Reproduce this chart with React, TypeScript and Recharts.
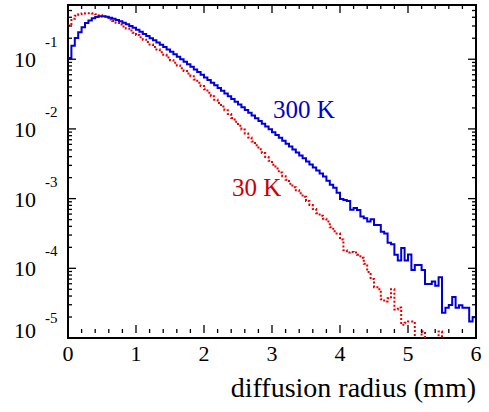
import { LineChart, Line, XAxis, YAxis, ReferenceArea } from 'recharts';

// histogram: 120 bins of 0.05 mm from 0 to 6 mm
const BIN_WIDTH = 0.05;

const blue300K = [
  0.1045, 0.156, 0.202, 0.244, 0.288, 0.33, 0.361, 0.386, 0.403, 0.413,
  0.413, 0.406, 0.395, 0.382, 0.367, 0.351, 0.335, 0.318, 0.3, 0.2827,
  0.2652, 0.248, 0.2311, 0.2154, 0.2008, 0.1872, 0.1739, 0.1615, 0.1495, 0.1384,
  0.1277, 0.1178, 0.1087, 0.1, 0.092, 0.0846, 0.0777, 0.0713, 0.0654, 0.0599,
  0.0549, 0.0503, 0.0461, 0.0423, 0.0386, 0.0353, 0.0322, 0.0294, 0.0269, 0.0246,
  0.0224, 0.0205, 0.0187, 0.0171, 0.0156, 0.01427, 0.01303, 0.0119, 0.01084, 0.00987,
  0.00898, 0.00818, 0.00745, 0.00678, 0.00615, 0.00558, 0.00506, 0.0046, 0.00417, 0.00378,
  0.00342, 0.00309, 0.0028, 0.00253, 0.00229, 0.00207, 0.00181, 0.00158, 0.00143, 0.00121,
  0.00099, 0.000957, 0.000926, 0.000692, 0.000732, 0.000685, 0.000554, 0.000524, 0.000469, 0.000506,
  0.000418, 0.000418, 0.000335, 0.000317, 0.000232, 0.000221, 0.000157, 0.000129, 0.000196, 0.000129,
  0.000158, 0.0000948, 0.000112, 0.000112, 0.0000948, 0.0000593, 0.0000593, 0.0000649, 0.000056, 0.0000742,
  0.000023, 0.0000272, 0.0000298, 0.0000387, 0.0000272, 0.0000296, 0.0000272, 0.0000272, 0.0000173, 0.0000198,
];

const red30K = [
  0.305, 0.38, 0.42, 0.441, 0.452, 0.457, 0.457, 0.452, 0.441, 0.427,
  0.41, 0.393, 0.373, 0.355, 0.335, 0.316, 0.295, 0.276, 0.258, 0.24,
  0.223, 0.206, 0.191, 0.176, 0.163, 0.1495, 0.1375, 0.126, 0.1155, 0.1059,
  0.097, 0.0889, 0.0815, 0.0744, 0.068, 0.0623, 0.0571, 0.0513, 0.0461, 0.0413,
  0.037, 0.0331, 0.0295, 0.0263, 0.0235, 0.0209, 0.01846, 0.01632, 0.01437, 0.01264,
  0.01113, 0.0098, 0.0086, 0.00754, 0.00662, 0.00581, 0.00511, 0.0045, 0.00397, 0.00349,
  0.00307, 0.00271, 0.00237, 0.0021, 0.00187, 0.00164, 0.00146, 0.00132, 0.00119, 0.00106,
  0.000926, 0.00081, 0.000708, 0.000619, 0.000569, 0.000515, 0.000469, 0.000387, 0.000339, 0.000317,
  0.000259, 0.000181, 0.000168, 0.000172, 0.000168, 0.000157, 0.000142, 0.000116, 0.0000886, 0.0000701,
  0.0000536, 0.0000501, 0.0000359, 0.0000335, 0.0000371, 0.0000501, 0.0000256, 0.0000274, 0.0000155, 0.0000166,
  0.0000172, 0.0000172, 0, 0, 0.0000124, 0, 0, 0, 0, 0.0000124,
  0, 0, 0, 0, 0, 0, 0, 0, 0, 0,
];

const xTicks = Array.from({ length: 31 }, (_, i) => Math.round(i * 2) / 10);
const yDecades = [-5, -4, -3, -2, -1];
const yTicks: number[] = [];
yDecades.forEach((e) => {
  for (let m = 1; m <= 9; m++) {
    const v = m * Math.pow(10, e);
    if (v <= 0.6) yTicks.push(v);
  }
});

// empty bins drop below the frame like in ROOT
const EMPTY = 1e-7;
const data = blue300K.map((b, i) => ({
  r: Math.round(i * BIN_WIDTH * 100) / 100,
  blue: b,
  red: red30K[i] > 0 ? red30K[i] : EMPTY,
}));
data.push({ r: 6, blue: blue300K[blue300K.length - 1], red: EMPTY });

const W = 489;
const H = 412;
const LEFT = 68;
const RIGHT = 476;
const TOP = 5;
const BOTTOM = 333;
const FONT = '"Liberation Serif", "Times New Roman", serif';

function XTick(props: any) {
  const { x, payload } = props;
  const v = payload.value;
  const major = Math.abs(v - Math.round(v)) < 1e-6;
  const len = major ? 8 : 4;
  return (
    <g>
      <line x1={x} y1={BOTTOM} x2={x} y2={BOTTOM - len} stroke="#000" strokeWidth={1.3} />
      <line x1={x} y1={TOP} x2={x} y2={TOP + len} stroke="#000" strokeWidth={1.3} />
      {major && (
        <text x={x} y={361} textAnchor="middle" fontSize={22} fontFamily={FONT} fill="#000">
          {Math.round(v)}
        </text>
      )}
    </g>
  );
}

function YTick(props: any) {
  const { y, payload } = props;
  const v = payload.value;
  const lg = Math.log10(v);
  const major = Math.abs(lg - Math.round(lg)) < 1e-6;
  const len = major ? 8 : 4;
  const exp = Math.round(lg);
  const last = exp === -5;
  return (
    <g>
      <line x1={LEFT} y1={y} x2={LEFT + len} y2={y} stroke="#000" strokeWidth={1.3} />
      <line x1={RIGHT} y1={y} x2={RIGHT - len} y2={y} stroke="#000" strokeWidth={1.3} />
      {major && (
        <g fontFamily={FONT} fill="#000">
          <text x={36} y={y + (last ? 0 : 8)} textAnchor="end" fontSize={22}>10</text>
          <text x={45} y={y - (last ? 15 : 12)} textAnchor="start" fontSize={15}>{exp}</text>
        </g>
      )}
    </g>
  );
}

export default function App() {
  return (
    <div style={{ position: 'absolute', left: 0, top: 0, width: W, height: H, background: '#fff' }}>
      <LineChart
        width={W}
        height={H}
        data={data}
        margin={{ top: TOP, right: W - RIGHT, bottom: 0, left: 0 }}
      >
        <XAxis
          dataKey="r"
          type="number"
          domain={[0, 6]}
          ticks={xTicks}
          interval={0}
          height={H - BOTTOM - TOP}
          tickSize={0}
          tickMargin={0}
          axisLine={false}
          tickLine={false}
          tick={<XTick />}
          allowDataOverflow
        />
        <YAxis
          type="number"
          scale="log"
          domain={[1e-5, 0.6]}
          ticks={yTicks}
          interval={0}
          width={LEFT}
          tickSize={0}
          tickMargin={0}
          axisLine={false}
          tickLine={false}
          tick={<YTick />}
          allowDataOverflow
        />
        <Line
          type="stepAfter"
          dataKey="red"
          stroke="#e00000"
          strokeWidth={2}
          strokeDasharray="2 2"
          dot={false}
          isAnimationActive={false}
        />
        <Line
          type="stepAfter"
          dataKey="blue"
          stroke="#0000dd"
          strokeWidth={2}
          dot={false}
          isAnimationActive={false}
        />
        <ReferenceArea x1={0} x2={6} y1={1e-5} y2={0.6} fill="none" stroke="#000" strokeWidth={2} />
      </LineChart>
      <svg
        width={W}
        height={H}
        style={{ position: 'absolute', left: 0, top: 0, pointerEvents: 'none' }}
      >
        <text x={273} y={118} fontSize={25} fontFamily={FONT} fill="#0000cc">300 K</text>
        <text x={232} y={196} fontSize={25} fontFamily={FONT} fill="#cc0000">30 K</text>
        <text x={476} y={397} textAnchor="end" fontSize={28} fontFamily={FONT} fill="#000">
          diffusion radius (mm)
        </text>
      </svg>
    </div>
  );
}
